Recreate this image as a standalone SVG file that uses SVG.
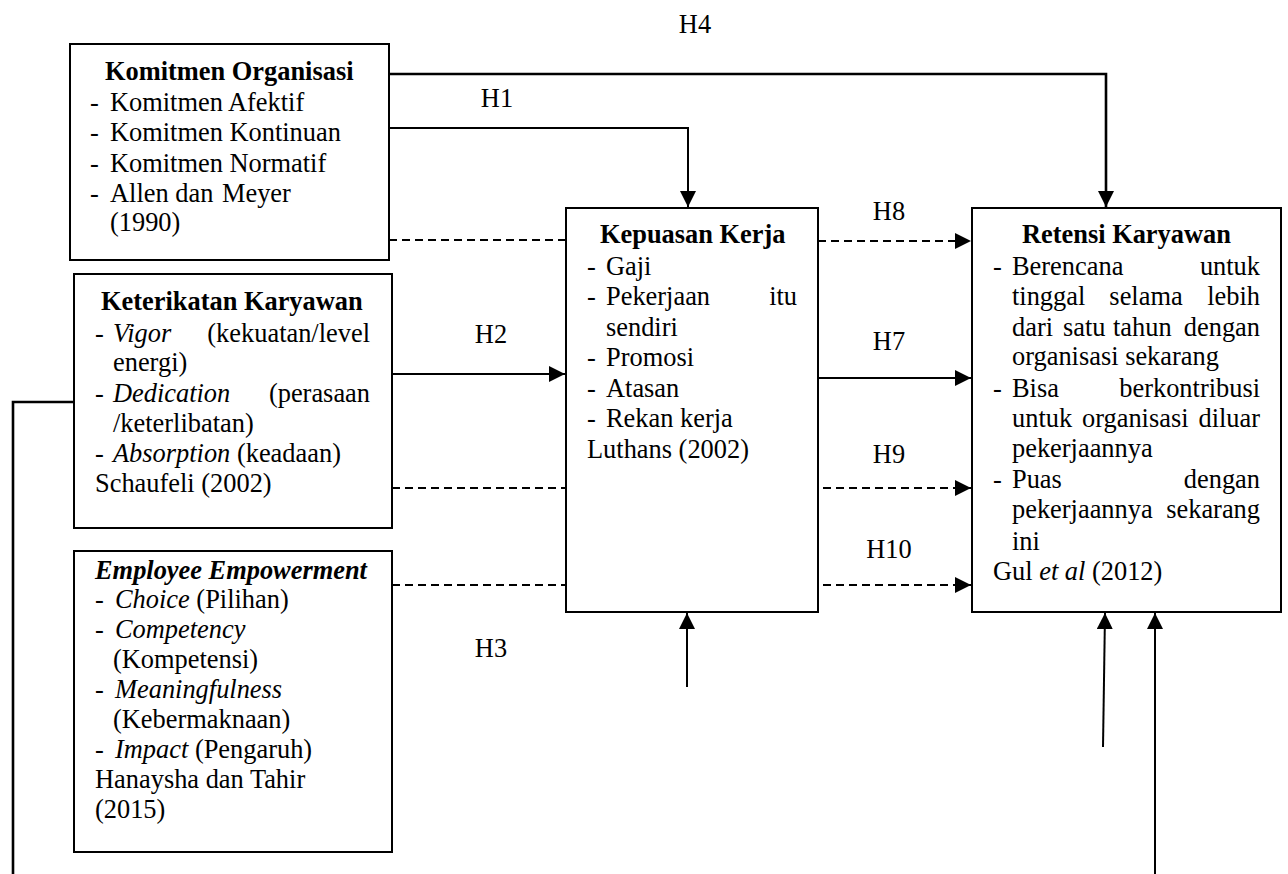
<svg xmlns="http://www.w3.org/2000/svg" width="1288" height="874" viewBox="0 0 1288 874">
<style>
text{font-family:"Liberation Serif","Times New Roman",serif;font-size:26.4px;fill:#000}
.b{font-weight:bold}
.i{font-style:italic}
.box{fill:#fff;stroke:#000;stroke-width:2}
.ln{fill:none;stroke:#000;stroke-width:2}
.th{fill:none;stroke:#000;stroke-width:2.6}
.ds{fill:none;stroke:#000;stroke-width:2;stroke-dasharray:8 5}
.e{text-anchor:end}
.m{text-anchor:middle}
</style>
<defs>
<marker id="ah" markerUnits="userSpaceOnUse" markerWidth="16" markerHeight="16" viewBox="0 0 15 15" refX="15" refY="7.5" orient="auto">
<path d="M0,0 L15,7.5 L0,15 z" fill="#000"/>
</marker>
</defs>
<rect width="1288" height="874" fill="#fff"/>

<g id="connectors">
<polyline class="th" points="389,74 1106,74 1106,207" marker-end="url(#ah)"/>
<polyline class="ln" points="389,128 688,128 688,207" marker-end="url(#ah)"/>
<line class="ds" x1="389" y1="240" x2="566" y2="240"/>
<line class="ds" x1="818" y1="241" x2="971" y2="241" marker-end="url(#ah)"/>
<line class="ln" x1="392" y1="374" x2="565" y2="374" marker-end="url(#ah)"/>
<line class="ln" x1="818" y1="378" x2="971" y2="378" marker-end="url(#ah)"/>
<line class="ds" x1="392" y1="488" x2="566" y2="488"/>
<line class="ds" x1="823" y1="488" x2="971" y2="488" marker-end="url(#ah)"/>
<line class="ds" x1="392" y1="585" x2="566" y2="585"/>
<line class="ds" x1="823" y1="585" x2="971" y2="585" marker-end="url(#ah)"/>
<line class="ln" x1="687" y1="687" x2="687" y2="613" marker-end="url(#ah)"/>
<line class="ln" x1="1103" y1="747" x2="1105" y2="613" marker-end="url(#ah)"/>
<line class="ln" x1="1155" y1="874" x2="1155" y2="613" marker-end="url(#ah)"/>
<polyline class="th" points="74,402 13,402 13,874"/>
<text x="695" y="33" class="m">H4</text>
<text x="497" y="107" class="m">H1</text>
<text x="491" y="343" class="m">H2</text>
<text x="491" y="657" class="m">H3</text>
<text x="889" y="220" class="m">H8</text>
<text x="889" y="350" class="m">H7</text>
<text x="889" y="463" class="m">H9</text>
<text x="889" y="558" class="m">H10</text>
</g>

<g id="komitmen-organisasi">
<rect class="box" x="70" y="44" width="319" height="216"/>
<text x="105" y="80" class="b">Komitmen Organisasi</text>
<text x="90" y="110.5">-</text><text x="110" y="110.5">Komitmen Afektif</text>
<text x="90" y="141">-</text><text x="110" y="141">Komitmen Kontinuan</text>
<text x="90" y="171.5">-</text><text x="110" y="171.5">Komitmen Normatif</text>
<text x="90" y="202">-</text><text x="110" y="202">Allen dan</text><text x="222" y="202">Meyer</text>
<text x="110" y="231">(1990)</text>
</g>

<g id="keterikatan-karyawan">
<rect class="box" x="74" y="274" width="318" height="254"/>
<text x="101" y="310" class="b">Keterikatan Karyawan</text>
<text x="95" y="342">-</text><text x="113" y="342" class="i">Vigor</text><text x="370" y="342" class="e">(kekuatan/level</text>
<text x="113" y="371">energi)</text>
<text x="95" y="402">-</text><text x="113" y="402" class="i">Dedication</text><text x="370" y="402" class="e">(perasaan</text>
<text x="113" y="432">/keterlibatan)</text>
<text x="95" y="462">-</text><text x="113" y="462"><tspan class="i">Absorption</tspan> (keadaan)</text>
<text x="95" y="492">Schaufeli (2002)</text>
</g>

<g id="employee-empowerment">
<rect class="box" x="74" y="551" width="318" height="301"/>
<text x="95" y="579" class="b i">Employee Empowerment</text>
<text x="95" y="608">-</text><text x="115" y="608"><tspan class="i">Choice</tspan> (Pilihan)</text>
<text x="95" y="638">-</text><text x="115" y="638" class="i">Competency</text>
<text x="113" y="668">(Kompetensi)</text>
<text x="95" y="698">-</text><text x="115" y="698" class="i">Meaningfulness</text>
<text x="113" y="728">(Kebermaknaan)</text>
<text x="95" y="758">-</text><text x="115" y="758"><tspan class="i">Impact</tspan> (Pengaruh)</text>
<text x="95" y="788">Hanaysha dan Tahir</text>
<text x="95" y="818">(2015)</text>
</g>

<g id="kepuasan-kerja">
<rect class="box" x="566" y="208" width="252" height="404"/>
<text x="600" y="243" class="b">Kepuasan Kerja</text>
<text x="587" y="275">-</text><text x="606" y="275">Gaji</text>
<text x="587" y="305">-</text><text x="606" y="305">Pekerjaan</text><text x="797" y="305" class="e">itu</text>
<text x="606" y="336">sendiri</text>
<text x="587" y="366">-</text><text x="606" y="366">Promosi</text>
<text x="587" y="397">-</text><text x="606" y="397">Atasan</text>
<text x="587" y="427">-</text><text x="606" y="427">Rekan kerja</text>
<text x="587" y="458">Luthans (2002)</text>
</g>

<g id="retensi-karyawan">
<rect class="box" x="972" y="208" width="309" height="404"/>
<text x="1022" y="243" class="b">Retensi Karyawan</text>
<text x="993" y="275">-</text><text x="1012" y="275">Berencana</text><text x="1260" y="275" class="e">untuk</text>
<text x="1012" y="305">tinggal</text><text x="1146" y="305" class="m">selama</text><text x="1260" y="305" class="e">lebih</text>
<text x="1012" y="336">dari</text><text x="1063" y="336">satu</text><text x="1113" y="336">tahun</text><text x="1260" y="336" class="e">dengan</text>
<text x="1012" y="365">organisasi sekarang</text>
<text x="993" y="397">-</text><text x="1012" y="397">Bisa</text><text x="1260" y="397" class="e">berkontribusi</text>
<text x="1012" y="427">untuk</text><text x="1082" y="427">organisasi</text><text x="1260" y="427" class="e">diluar</text>
<text x="1012" y="457">pekerjaannya</text>
<text x="993" y="488">-</text><text x="1012" y="488">Puas</text><text x="1260" y="488" class="e">dengan</text>
<text x="1012" y="518">pekerjaannya</text><text x="1260" y="518" class="e">sekarang</text>
<text x="1012" y="550">ini</text>
<text x="993" y="580">Gul <tspan class="i">et al</tspan> (2012)</text>
</g>
</svg>
